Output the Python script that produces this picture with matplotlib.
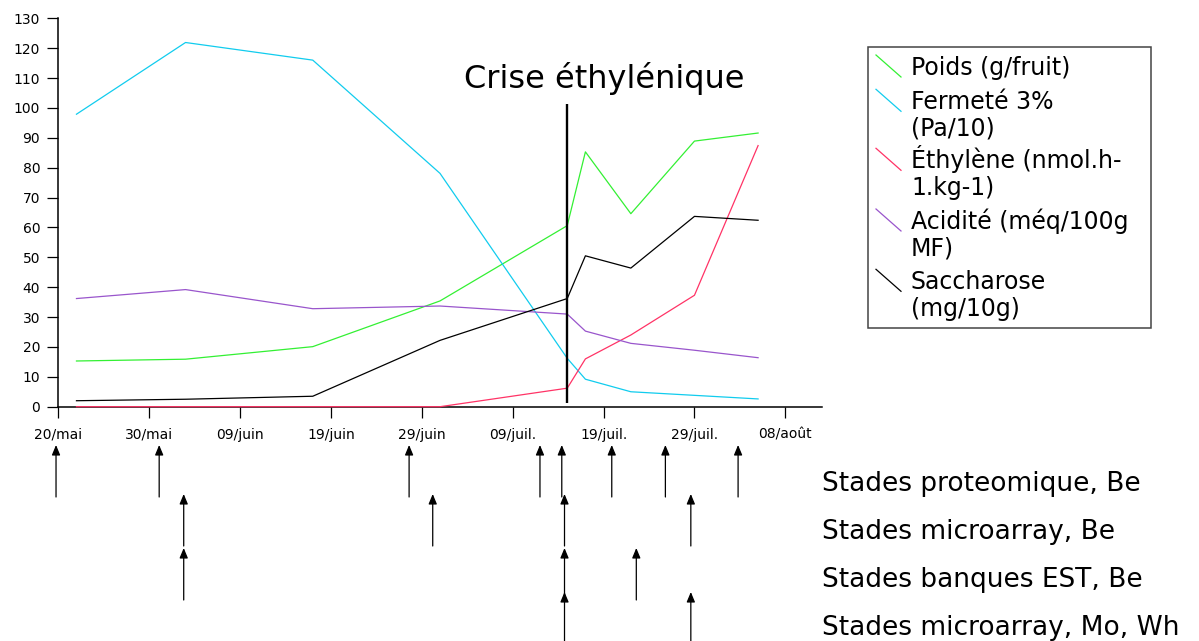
import numpy as np
import matplotlib
matplotlib.use('Agg')
import matplotlib.pyplot as plt
from matplotlib.lines import Line2D
from matplotlib.patches import Rectangle

# days counted from 20 May
jours = [2, 14, 28, 42, 56, 58, 63, 70, 77]
poids = [15.3, 15.9, 20.1, 35.4, 60.6, 85.3, 64.6, 88.9, 91.6]
fermete = [97.9, 121.9, 116.0, 78.1, 16.2, 9.2, 5.0, 3.8, 2.6]
ethylene = [0, 0, 0, 0, 6.2, 16.0, 24.0, 37.3, 87.4]
acidite = [36.2, 39.2, 32.8, 33.7, 31.0, 25.3, 21.2, 18.9, 16.4]
saccharose = [2.0, 2.5, 3.5, 22.2, 36.2, 50.5, 46.4, 63.7, 62.4]

series = [poids, fermete, ethylene, acidite, saccharose]
noms = ['Poids (g/fruit)', 'Fermeté 3%\n(Pa/10)', 'Éthylène (nmol.h-\n1.kg-1)',
        'Acidité (méq/100g\nMF)', 'Saccharose\n(mg/10g)']
couleurs = ['#33f033', '#11ccee', '#ff3366', '#9955cc', 'black']

tick_jours = [0, 10, 20, 30, 40, 50, 60, 70, 80]
tick_labels = ['20/mai', '30/mai', '09/juin', '19/juin', '29/juin',
               '09/juil.', '19/juil.', '29/juil.', '08/août']
crise_jour = 56

# stage arrows (day of each sampling), one row per label
stades = ['Stades proteomique, Be', 'Stades microarray, Be',
          'Stades banques EST, Be', 'Stades microarray, Mo, Wh']
stades_jours = [
    [-0.25, 11.1, 38.6, 53.0, 55.4, 60.9, 66.8, 74.8],
    [13.8, 41.2, 55.7, 69.6],
    [13.8, 55.7, 63.6],
    [55.7, 69.6],
]

W, H = 1199, 641
fx = lambda px: px / W
fy = lambda py: 1 - py / H

fig = plt.figure(figsize=(W / 100, H / 100), dpi=100)
ax = fig.add_axes([fx(58.3), fy(406.7), (821.7 - 58.3) / W, (406.7 - 18.3) / H])

for vals, c in zip(series, couleurs):
    ax.plot(jours, vals, color=c, lw=0.9, clip_on=False, zorder=3)

ax.vlines(crise_jour, 1.1, 101.4, color='black', lw=1.7, zorder=4)

ax.set_xlim(0, 84)
ax.set_ylim(0, 130)
ax.set_xticks(tick_jours)
ax.set_xticklabels(tick_labels)
ax.set_yticks(np.arange(0, 131, 10))
ax.tick_params(axis='both', direction='out', length=8, width=0.9, labelsize=10)
ax.tick_params(axis='x', pad=7)
ax.tick_params(axis='y', pad=5)
for s in ['top', 'right']:
    ax.spines[s].set_visible(False)
for s in ['left', 'bottom']:
    ax.spines[s].set_linewidth(1.1)

fig.text(fx(604.7), fy(88.3), 'Crise éthylénique', ha='center', va='baseline', fontsize=23)

# legend drawn by hand (diagonal handles)
fig.patches.append(Rectangle((fx(868), fy(328.3)), (1151 - 868) / W, (328.3 - 47.3) / H,
                             transform=fig.transFigure, fill=False, edgecolor='#444444', lw=1.1))
leg_base = [75, 109.3, 168.3, 229, 289.3]
for nom, c, yb in zip(noms, couleurs, leg_base):
    fig.lines.append(Line2D([fx(876), fx(901)], [fy(yb - 20), fy(yb + 2)],
                            transform=fig.transFigure, color=c, lw=0.9))
    for i, ligne in enumerate(nom.split('\n')):
        fig.text(fx(911), fy(yb + i * 26.7), ligne, ha='left', va='baseline', fontsize=17)

# stage arrows
rows = [(445, 497), (494, 546), (548, 600), (592, 645)]
for jj, (ytip, ytail) in zip(stades_jours, rows):
    for j in jj:
        ax.annotate('', xy=(j, fy(ytip)), xytext=(j, fy(ytail)),
                    xycoords=('data', 'figure fraction'), textcoords=('data', 'figure fraction'),
                    arrowprops=dict(arrowstyle='-|>,head_length=0.6,head_width=0.25',
                                    color='black', lw=0.9, shrinkA=0, shrinkB=0),
                    annotation_clip=False)

for nom, yb in zip(stades, [491, 539, 587, 635]):
    fig.text(fx(822), fy(yb), nom, ha='left', va='baseline', fontsize=19)

fig.savefig('out.png', dpi=100)
